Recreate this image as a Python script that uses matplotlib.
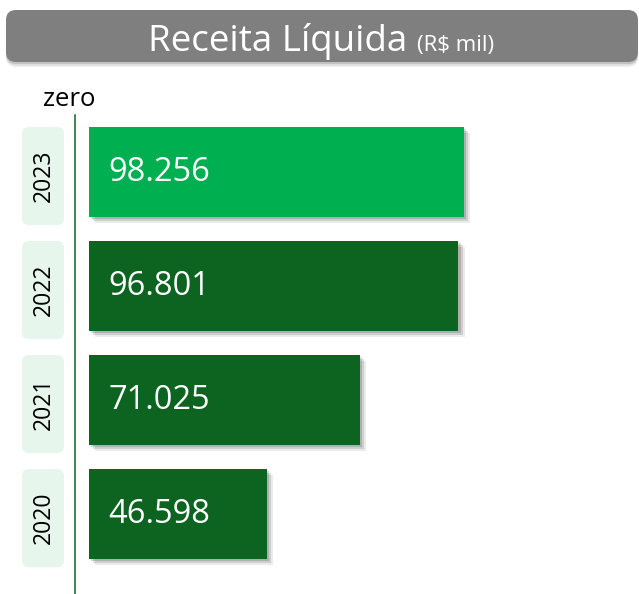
import numpy as np
import matplotlib
matplotlib.use('Agg')
import matplotlib.pyplot as plt
import matplotlib.transforms as mtransforms
import matplotlib.patheffects as pe
from matplotlib.patches import FancyBboxPatch

# Dados (R$ mil)
anos = ['2020', '2021', '2022', '2023']
receita = [46598, 71025, 96801, 98256]
rotulos = [f"{v:,}".replace(',', '.') for v in receita]

plt.rcParams['font.family'] = ['Open Sans', 'DejaVu Sans']

W, H = 639, 594
verde = '#00B050'
verde_esc = '#0D6421'
fundo_ano = '#E6F6EC'

fig = plt.figure(figsize=(W / 100, H / 100), dpi=100)
ax = fig.add_axes([75 / W, 0, (W - 75) / W, (H - 115) / H])

# escala: px por unidade
s = 375 / max(receita)
ax.set_xlim(-14 / s, (W - 75 - 14) / s)
ax.set_ylim(-0.7, 3.5)

ypos = np.arange(len(anos))
cores = [verde_esc] * (len(anos) - 1) + [verde]
bars = ax.barh(ypos, receita, height=0.79, color=cores, zorder=3)
for b in bars:
    b.set_path_effects([
        pe.SimplePatchShadow(offset=(4.5, -4.5), shadow_rgbFace='#000000', alpha=0.08),
        pe.SimplePatchShadow(offset=(3, -3), shadow_rgbFace='#000000', alpha=0.12),
        pe.SimplePatchShadow(offset=(1.5, -1.5), shadow_rgbFace='#000000', alpha=0.15),
        pe.Normal()])

for y, txt in zip(ypos, rotulos):
    ax.annotate(txt, xy=(0, y), xytext=(14, 0), textcoords='offset points',
                va='center', ha='left', color='white', fontsize=23.5, zorder=4)

# eixo vertical
for sp in ['top', 'right', 'bottom']:
    ax.spines[sp].set_visible(False)
ax.spines['left'].set_position(('data', -14 / s))
ax.spines['left'].set_color(verde_esc)
ax.spines['left'].set_linewidth(1.1)
ax.set_xticks([])
ax.set_yticks([])
ax.patch.set_alpha(0)

# caixas dos anos
ypx = 114.05
tr = mtransforms.blended_transform_factory(fig.transFigure, ax.transData)
for y, ano in zip(ypos, anos):
    y0 = y - 0.395 - 8 / ypx
    hh = 0.79 + 8 / ypx
    box = FancyBboxPatch((22 / W, y0), 42 / W, hh,
                         boxstyle=f'round,pad=0,rounding_size={7 / W}',
                         mutation_aspect=W / ypx, transform=tr,
                         facecolor=fundo_ano, edgecolor='none', clip_on=False)
    ax.add_patch(box)
    ax.text(44 / W, y0 + hh / 2, ano, transform=tr, rotation=90,
            ha='center', va='center', fontsize=16.5, color='black')

# "zero"
fig.text(43 / W, 1 - 106 / H, 'zero', ha='left', va='baseline', fontsize=18.5, color='black')

# titulo
for k, a in [(5, 0.06), (3.5, 0.08), (2, 0.12)]:
    sh = FancyBboxPatch((6 / W, 1 - (62 + k) / H), 632 / W, 52 / H,
                        boxstyle=f'round,pad=0,rounding_size={10 / W}',
                        mutation_aspect=W / H, transform=fig.transFigure,
                        facecolor='black', alpha=a, edgecolor='none')
    fig.patches.append(sh)
tb = FancyBboxPatch((6 / W, 1 - 62 / H), 632 / W, 52 / H,
                    boxstyle=f'round,pad=0,rounding_size={10 / W}',
                    mutation_aspect=W / H, transform=fig.transFigure,
                    facecolor='#7F7F7F', edgecolor='none')
fig.patches.append(tb)
fig.text(148 / W, 1 - 51 / H, 'Receita Líquida', ha='left', va='baseline',
         fontsize=26.5, color='white')
fig.text(417 / W, 1 - 51 / H, '(R$ mil)', ha='left', va='baseline',
         fontsize=16, color='white')

fig.savefig('out.png', dpi=100)
